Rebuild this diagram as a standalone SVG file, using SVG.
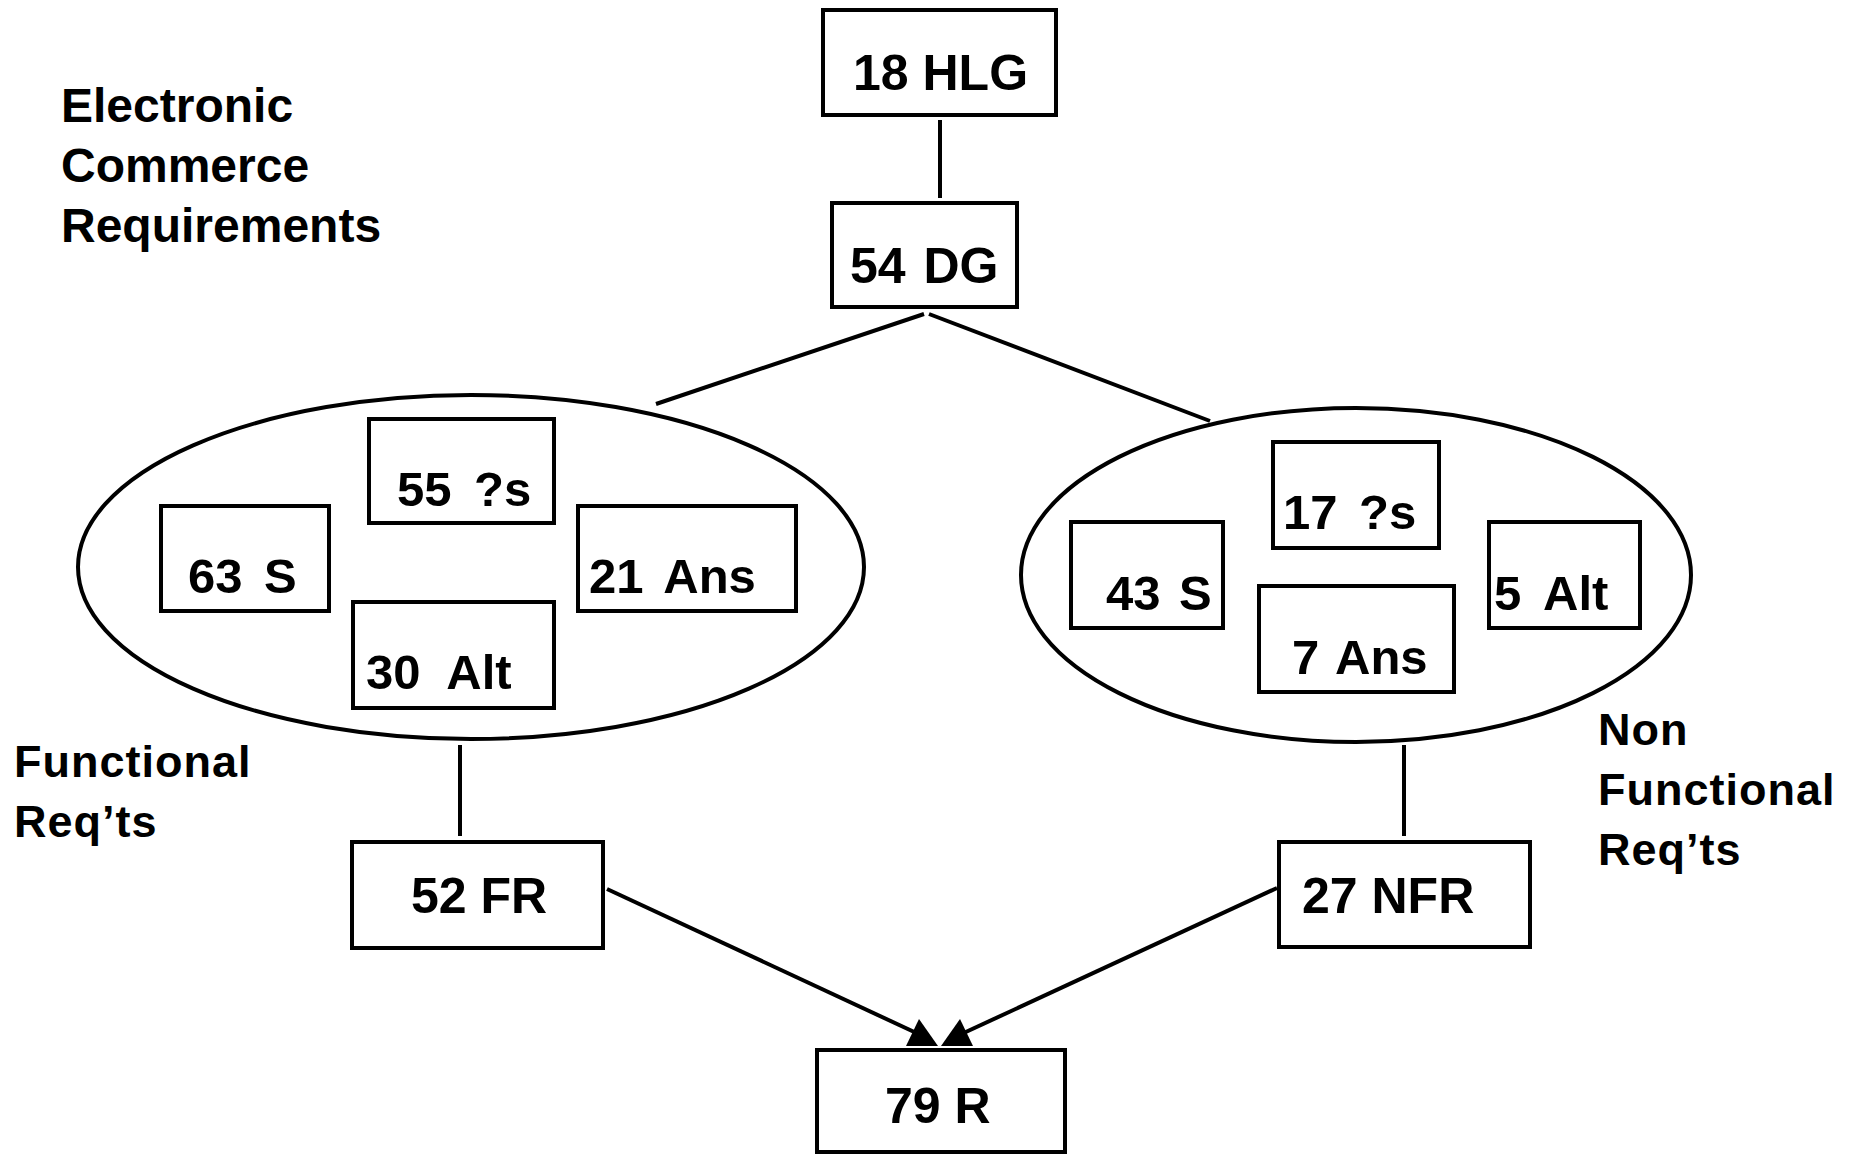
<svg xmlns="http://www.w3.org/2000/svg" width="1858" height="1154" viewBox="0 0 1858 1154">
<style>
.box{fill:#fff;stroke:#000;stroke-width:4}
.ell{fill:none;stroke:#000;stroke-width:4}
.t{font-family:"Liberation Sans",Arial,sans-serif;font-weight:bold;font-size:50px;fill:#000}
.ti{font-family:"Liberation Sans",Arial,sans-serif;font-weight:bold;font-size:49px;fill:#000}
.lab{font-family:"Liberation Sans",Arial,sans-serif;font-weight:bold;font-size:48px;fill:#000}
.lab2{font-family:"Liberation Sans",Arial,sans-serif;font-weight:bold;font-size:45px;letter-spacing:1px;fill:#000}
.conn{stroke:#000;stroke-width:4;fill:none}
.ah{fill:#000;stroke:none}
</style>
<rect width="1858" height="1154" fill="#fff"/>
<g id="label-ec">
<text class="lab" x="61" y="122">Electronic</text>
<text class="lab" x="61" y="182">Commerce</text>
<text class="lab" x="61" y="242">Requirements</text>
</g>
<g id="label-fr">
<text class="lab2" x="14" y="777">Functional</text>
<text class="lab2" x="14" y="837">Req’ts</text>
</g>
<g id="label-nfr">
<text class="lab2" x="1598" y="745">Non</text>
<text class="lab2" x="1598" y="805">Functional</text>
<text class="lab2" x="1598" y="865">Req’ts</text>
</g>
<g id="connectors">
<line class="conn" x1="940" y1="120" x2="940" y2="198"/>
<line class="conn" x1="924" y1="314" x2="656" y2="404"/>
<line class="conn" x1="929" y1="314" x2="1210" y2="421"/>
<line class="conn" x1="460" y1="745" x2="460" y2="836"/>
<line class="conn" x1="1404" y1="745" x2="1404" y2="836"/>
<line class="conn" x1="607" y1="889" x2="925" y2="1037"/>
<line class="conn" x1="1277" y1="888" x2="955" y2="1037"/>
<polygon class="ah" points="906,1046 938,1046 919,1019"/>
<polygon class="ah" points="941,1046 973,1046 960,1019"/>
</g>
<g id="ellipse-functional"><ellipse class="ell" cx="471" cy="567" rx="393" ry="172"/></g>
<g id="ellipse-nonfunctional"><ellipse class="ell" cx="1356" cy="575" rx="335" ry="167"/></g>
<g id="n-hlg"><rect class="box" x="823" y="10" width="233" height="105"/><text class="t" x="853" y="90">18 HLG</text></g>
<g id="n-dg"><rect class="box" x="832" y="203" width="185" height="104"/><text class="t" x="850" y="283" style="word-spacing:4px">54 DG</text></g>
<g id="n-55q"><rect class="box" x="369" y="419" width="185" height="104"/><text class="ti" x="397" y="506" style="word-spacing:9px">55 ?s</text></g>
<g id="n-63s"><rect class="box" x="161" y="506" width="168" height="105"/><text class="ti" x="188" y="593" style="word-spacing:8px">63 S</text></g>
<g id="n-21ans"><rect class="box" x="578" y="506" width="218" height="105"/><text class="ti" x="589" y="593" style="word-spacing:8px">21 Ans</text></g>
<g id="n-30alt"><rect class="box" x="353" y="602" width="201" height="106"/><text class="ti" x="366" y="689" style="word-spacing:14px">30 Alt</text></g>
<g id="n-17q"><rect class="box" x="1273" y="442" width="166" height="106"/><text class="ti" x="1283" y="529" style="word-spacing:8px">17 ?s</text></g>
<g id="n-43s"><rect class="box" x="1071" y="522" width="152" height="106"/><text class="ti" x="1106" y="610" style="word-spacing:5px">43 S</text></g>
<g id="n-5alt"><rect class="box" x="1489" y="522" width="151" height="106"/><text class="ti" x="1494" y="610" style="word-spacing:10px">5 Alt</text></g>
<g id="n-7ans"><rect class="box" x="1259" y="586" width="195" height="106"/><text class="ti" x="1292" y="674" style="word-spacing:4px">7 Ans</text></g>
<g id="n-52fr"><rect class="box" x="352" y="842" width="251" height="106"/><text class="t" x="411" y="913">52 FR</text></g>
<g id="n-27nfr"><rect class="box" x="1279" y="842" width="251" height="105"/><text class="t" x="1302" y="913">27 NFR</text></g>
<g id="n-79r"><rect class="box" x="817" y="1050" width="248" height="102"/><text class="t" x="885" y="1123">79 R</text></g>
</svg>
